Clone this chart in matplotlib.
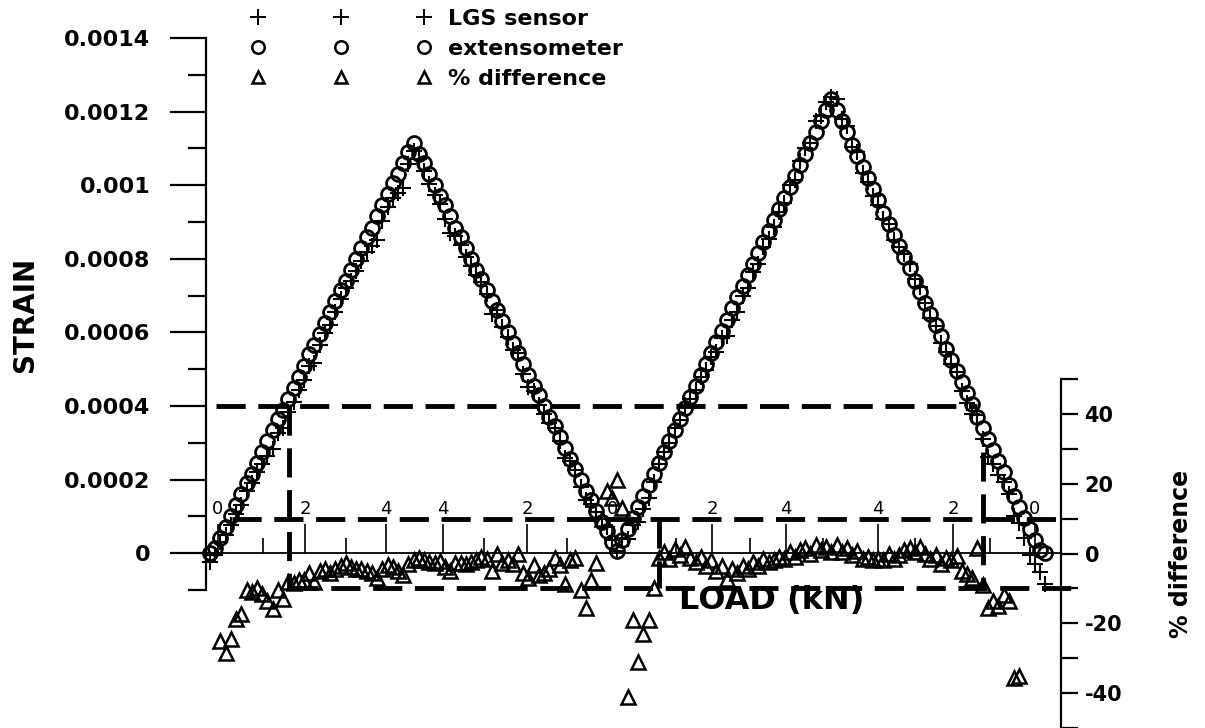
import numpy as np
import matplotlib
matplotlib.use("Agg")
import matplotlib.pyplot as plt
from matplotlib import ticker
from matplotlib.lines import Line2D

nan = np.nan

# extensometer strain per reading (microstrain), two load/unload cycles
ext_ue = [
    0, 15, 40, 70, 100, 130, 160, 190, 215, 245,
    275, 305, 335, 365, 390, 420, 450, 480, 510, 540,
    565, 595, 625, 655, 685, 715, 740, 770, 800, 830,
    860, 885, 915, 945, 975, 1005, 1030, 1060, 1090, 1115,
    1085, 1060, 1030, 1000, 970, 945, 915, 885, 860, 830,
    800, 770, 745, 715, 685, 660, 630, 600, 570, 545,
    515, 485, 455, 430, 400, 370, 345, 315, 285, 255,
    230, 200, 170, 145, 115, 85, 60, 30, 5, 35,
    65, 95, 125, 155, 185, 215, 245, 275, 305, 335,
    365, 395, 425, 455, 485, 515, 545, 575, 605, 635,
    665, 695, 725, 755, 785, 815, 845, 875, 905, 935,
    965, 995, 1025, 1055, 1085, 1115, 1145, 1175, 1205, 1235,
    1205, 1175, 1145, 1110, 1080, 1050, 1020, 990, 960, 925,
    895, 865, 835, 805, 775, 740, 710, 680, 650, 620,
    590, 555, 525, 495, 465, 435, 405, 370, 340, 310,
    280, 250, 220, 185, 155, 125, 95, 65, 35, 10,
    0,
]

# LGS sensor strain per reading (microstrain)
lgs_ue = [
    -25, -5, 30, 50, 76, 106, 132, 170, 191, 220,
    243, 264, 282, 326, 339, 385, 412, 443, 471, 509,
    518, 565, 598, 619, 656, 690, 721, 739, 766, 793,
    818, 836, 852, 902, 942, 965, 979, 993, 1057, 1093,
    1070, 1039, 1004, 974, 949, 907, 870, 862, 838, 805,
    781, 755, 737, 704, 651, 660, 614, 588, 553, 545,
    486, 452, 440, 403, 377, 353, 340, 304, 260, 250,
    227, 179, 144, 134, 112, 94, 71, 35, 6, 40,
    38, 77, 86, 119, 150, 194, 242, 276, 300, 340,
    363, 402, 420, 444, 480, 497, 534, 546, 584, 589,
    635, 655, 700, 721, 765, 786, 832, 853, 887, 926,
    951, 1000, 1015, 1066, 1101, 1115, 1174, 1187, 1227, 1241,
    1233, 1181, 1162, 1104, 1089, 1034, 1010, 970, 946, 907,
    895, 852, 831, 813, 787, 744, 724, 680, 640, 617,
    572, 547, 515, 492, 442, 409, 377, 376, 309, 262,
    242, 213, 194, 160, 100, 81, 40, -5, -30, -50,
    -85,
]

# percent difference between the two sensors per reading
pct_diff = [
    nan, nan, -25, -28.4, -24.4, -18.7, -17.2, -10.5, -11, -10,
    -11.5, -13.5, -15.8, -10.6, -13, -8.3, -8.5, -7.7, -7.7, -5.7,
    -8.3, -5, -4.3, -5.5, -4.3, -3.5, -2.6, -4, -4.3, -4.5,
    -4.9, -5.5, -6.9, -4.5, -3.4, -4, -5, -6.3, -3, -2,
    -1.4, -2, -2.5, -2.6, -2.2, -4, -4.9, -2.6, -2.6, -3,
    -2.4, -2, -1.1, -1.5, -4.9, 0, -2.6, -2, -2.9, 0,
    -5.7, -6.9, -3.4, -6.3, -5.7, -4.5, -1.4, -3.4, -8.6, -2,
    -1.4, -10.6, -15.5, -7.7, -2.6, 10, 18, 16, 21, 13,
    -41, -19, -31, -23, -19, -10, -1.2, 0.5, -1.5, 1.4,
    -0.5, 1.8, -1.2, -2.5, -1, -3.5, -2, -5, -3.5, -7.2,
    -4.5, -5.7, -3.5, -4.5, -2.5, -3.5, -1.5, -2.5, -2, -1,
    -1.5, 0.5, -1, 1, 1.5, 0, 2.5, 1, 1.8, 0.5,
    2.3, 0.5, 1.5, -0.5, 0.8, -1.5, -1, -2, -1.5, -2,
    0, -1.5, -0.5, 1, 1.5, 0.5, 2, 0, -1.5, -0.5,
    -3, -1.4, -2, -0.6, -4.9, -6, -7, 1.7, -9, -15.5,
    -13.5, -15, -12, -13.5, -35.6, -35, nan, nan, nan, nan,
    nan,
]

# load axis: reading number at which each load value was reached
load_major_pos = [1.5, 18.2, 33.7, 44.6, 60.7, 77.0, 96.2, 110.3, 128.0, 142.3, 158.0]
load_major_lab = ['0', '2', '4', '4', '2', '0', '2', '4', '4', '2', '0']
load_minor_pos = [10.2, 26.1, 52.5, 68.4, 89.3, 103.4, 117.4, 135.1, 149.4]

# dashed guide lines
guide_strain = 0.0004
guide_pct = 10
box_left, box_mid, box_right = 15.1, 86.0, 148.1

plt.rcParams['font.family'] = 'DejaVu Sans'
plt.rcParams['axes.unicode_minus'] = False

reading = np.arange(len(ext_ue))
ext = np.array(ext_ue) * 1e-6
lgs = np.array(lgs_ue) * 1e-6
pct = np.array(pct_diff)

W, H = 1205, 728
fig = plt.figure(figsize=(W / 100, H / 100), dpi=100)


def px_box(x0, y0, x1, y1):
    return [x0 / W, 1 - y1 / H, (x1 - x0) / W, (y1 - y0) / H]


ax = fig.add_axes(px_box(206, 38, 1061, 590))
ax2 = fig.add_axes(px_box(206, 379, 1061, 728), sharex=ax)

ax.set_xlim(-0.77, 163.0)
ax.set_ylim(-0.0001, 0.0014)
ax2.set_ylim(-50, 50)

# strain axis (left)
for s in ['top', 'right']:
    ax.spines[s].set_visible(False)
ax.spines['left'].set_linewidth(1.6)
ax.spines['bottom'].set_position(('data', 0))
ax.spines['bottom'].set_linewidth(1.3)
ax.yaxis.set_major_locator(ticker.MultipleLocator(0.0002))
ax.yaxis.set_minor_locator(ticker.MultipleLocator(0.0001))
ax.yaxis.set_major_formatter(ticker.FormatStrFormatter('%g'))
ax.tick_params(axis='y', which='major', direction='out', length=26, width=1.6,
               pad=14, labelsize=16)
ax.tick_params(axis='y', which='minor', direction='out', length=13, width=1.6)
for lab in ax.get_yticklabels():
    lab.set_fontweight('bold')
ax.set_ylabel('STRAIN', fontsize=20, fontweight='bold', labelpad=18)

# load axis drawn along zero strain, ticks and labels above the line
ax.set_xticks(load_major_pos, load_major_lab)
ax.set_xticks(load_minor_pos, minor=True)
ax.tick_params(axis='x', which='major', direction='in', length=21, width=1.2,
               pad=-38, labelsize=13)
ax.tick_params(axis='x', which='minor', direction='in', length=11, width=1.2)
ax.set_xlabel('LOAD (kN)', fontsize=23, fontweight='bold')
ax.xaxis.set_label_coords((772 - 206) / 855, (590 - 601) / 552)
ax.xaxis.label.set_va('center')

# percent difference axis (right)
ax2.patch.set_visible(False)
for s in ['top', 'left', 'bottom']:
    ax2.spines[s].set_visible(False)
ax2.spines['right'].set_linewidth(1.6)
ax2.yaxis.tick_right()
ax2.yaxis.set_label_position('right')
ax2.yaxis.set_major_locator(ticker.MultipleLocator(20))
ax2.yaxis.set_minor_locator(ticker.MultipleLocator(10))
ax2.tick_params(axis='y', which='both', direction='out', length=12, width=1.6,
                pad=5, labelsize=15)
ax2.tick_params(axis='x', which='both', bottom=False, labelbottom=False)
for lab in ax2.get_yticklabels():
    lab.set_fontweight('bold')
ax2.set_ylabel('% difference', fontsize=17, fontweight='bold', labelpad=34)


def strain_to_pct(s):
    y = ax.transData.transform((0, s))[1]
    return ax2.transData.inverted().transform((0, y))[1]


guide = dict(color='black', lw=3.5, ls=(0, (6, 2.6)), dash_capstyle='butt',
             clip_on=False, zorder=1)
ax.plot([1.2, 147.0], [guide_strain, guide_strain], **guide)
ax2.plot([4.2, 163.0], [guide_pct, guide_pct], **guide)
ax2.plot([box_left, 166.3], [-guide_pct, -guide_pct], **guide)
ax2.plot([box_left, box_left], [strain_to_pct(guide_strain), -guide_pct], **guide)
ax2.plot([box_mid, box_mid], [guide_pct, -guide_pct], **guide)
ax2.plot([box_right, box_right], [29, -guide_pct], **guide)

# data
ax.plot(reading, ext, ls='none', marker='o', ms=10, mfc='none',
        mec='black', mew=2.0, clip_on=False, zorder=2)
ax.plot(reading, lgs, ls='none', marker='+', ms=12, mew=1.5,
        color='black', clip_on=False, zorder=3)
ax2.plot(reading, pct, ls='none', marker='^', ms=10, mfc='none',
         mec='black', mew=1.8, zorder=3)

# legend keys drawn a little smaller than the plotted symbols
key_lgs = Line2D([], [], ls='none', marker='+', ms=11, mew=1.4, color='black')
key_ext = Line2D([], [], ls='none', marker='o', ms=9, mfc='none', mec='black', mew=1.8)
key_pct = Line2D([], [], ls='none', marker='^', ms=8, mfc='none', mec='black', mew=1.8)
fig.legend([key_lgs, key_ext, key_pct], ['LGS sensor', 'extensometer', '% difference'],
           loc='center left', bbox_to_anchor=(231.4 / W, 1 - 49 / H),
           numpoints=3, handlelength=8.08, handletextpad=0.78, frameon=False,
           prop={'weight': 'bold', 'size': 16}, labelspacing=0.44,
           borderpad=0.4)

fig.savefig('out.png', dpi=100)
